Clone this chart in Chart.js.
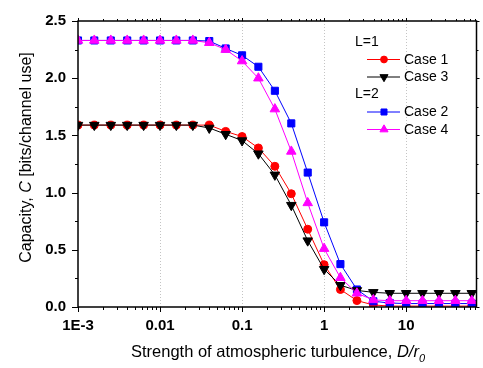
<!DOCTYPE html>
<html>
<head>
<meta charset="utf-8">
<script src="https://cdn.jsdelivr.net/npm/chart.js@4.4.0/dist/chart.umd.min.js"></script>
<style>
  html, body { margin: 0; padding: 0; background: #fff; }
  #wrap { width: 483px; height: 368px; }
</style>
</head>
<body>
<div id="wrap"><canvas id="chart" width="483" height="368"></canvas></div>
<script>
  // D/r0 sample points (0.2 decade steps)
  var turbulence = [0.001, 0.00158, 0.00251, 0.00398, 0.00631,
                    0.01, 0.0158, 0.0251, 0.0398, 0.0631,
                    0.1, 0.158, 0.251, 0.398, 0.631,
                    1, 1.58, 2.51, 3.98, 6.31,
                    10, 15.8, 25.1, 39.8, 63.1];

  var case1 = [1.59, 1.59, 1.59, 1.59, 1.59, 1.59, 1.59, 1.59, 1.59, 1.535,
               1.49, 1.39, 1.23, 0.99, 0.68, 0.37, 0.153, 0.056, 0.018, 0.008,
               0.008, 0.008, 0.008, 0.008, 0.008];
  var case3 = [1.59, 1.59, 1.59, 1.59, 1.59, 1.59, 1.59, 1.59, 1.565, 1.51,
               1.455, 1.34, 1.155, 0.89, 0.58, 0.33, 0.19, 0.145, 0.128, 0.12,
               0.12, 0.12, 0.12, 0.12, 0.12];
  var case2 = [2.33, 2.33, 2.33, 2.33, 2.33, 2.33, 2.33, 2.33, 2.325, 2.26,
               2.2, 2.1, 1.89, 1.605, 1.175, 0.74, 0.375, 0.153, 0.05, 0.035,
               0.03, 0.03, 0.03, 0.03, 0.03];
  var case4 = [2.33, 2.33, 2.33, 2.33, 2.33, 2.33, 2.33, 2.33, 2.31, 2.25,
               2.15, 2.0, 1.73, 1.36, 0.91, 0.51, 0.256, 0.12, 0.062, 0.055,
               0.055, 0.055, 0.055, 0.055, 0.055];

  var xTickValues = [0.001, 0.01, 0.1, 1, 10];
  var xTickLabels = ['1E-3', '0.01', '0.1', '1', '10'];
  var yTickValues = [0, 0.5, 1.0, 1.5, 2.0, 2.5];

  var FONT = '"Liberation Sans", Arial, sans-serif';

  function pts(ys) {
    return turbulence.map(function (x, i) { return { x: x, y: ys[i] }; });
  }

  function series(label, ys, color, style, radius, rotation, order) {
    return {
      label: label,
      data: pts(ys),
      borderColor: color,
      backgroundColor: color,
      pointBackgroundColor: color,
      pointBorderColor: color,
      pointBorderWidth: 1,
      borderWidth: 1,
      pointStyle: style,
      pointRadius: radius,
      pointRotation: rotation,
      order: order,
      clip: 0,
      tension: 0
    };
  }

  var datasets = [
    series('Case 1', case1, '#ff0000', 'circle', 4, 0, 4),
    series('Case 3', case3, '#000000', 'triangle', 5.5, 180, 2),
    series('Case 2', case2, '#0000ff', 'rect', 5, 0, 3),
    series('Case 4', case4, '#ff00ff', 'triangle', 5.5, 0, 1)
  ];

  // frame, minor ticks, axis titles and the grouped legend
  var decorations = {
    id: 'decorations',
    afterDraw: function (chart) {
      var ctx = chart.ctx;
      var a = chart.chartArea;
      var xs = chart.scales.x, ys = chart.scales.y;
      ctx.save();
      ctx.strokeStyle = '#000';

      // x ticks (bottom outward, top small)
      ctx.lineWidth = 1;
      for (var d = -3; d <= 1; d++) {
        for (var m = 1; m <= 9; m++) {
          var v = m * Math.pow(10, d);
          if (v > xs.max) continue;
          var px = Math.round(xs.getPixelForValue(v)) + 0.5;
          var len = m === 1 ? 5 : 3;
          ctx.beginPath();
          ctx.moveTo(px, a.bottom);
          ctx.lineTo(px, a.bottom + len);
          ctx.moveTo(px, a.top);
          ctx.lineTo(px, a.top - (m === 1 ? 3 : 2));
          ctx.stroke();
        }
      }
      // y ticks (left and right, outward)
      for (var t = 0; t <= 2.5001; t += 0.25) {
        var py = Math.round(ys.getPixelForValue(t)) + 0.5;
        var major = Math.abs(t * 2 - Math.round(t * 2)) < 1e-6;
        ctx.beginPath();
        ctx.moveTo(a.left, py);
        ctx.lineTo(a.left - (major ? 6 : 3), py);
        ctx.moveTo(a.right, py);
        ctx.lineTo(a.right + (major ? 3 : 2), py);
        ctx.stroke();
      }

      // frame
      ctx.lineWidth = 1.5;
      ctx.strokeRect(a.left, a.top, a.right - a.left, a.bottom - a.top);

      // x title with italic D/r0
      ctx.fillStyle = '#000';
      ctx.textBaseline = 'alphabetic';
      ctx.textAlign = 'left';
      var plain = 'Strength of atmospheric turbulence, ';
      var ital = 'D/r';
      ctx.font = '16.5px ' + FONT;
      var w1 = ctx.measureText(plain).width;
      ctx.font = 'italic 16.5px ' + FONT;
      var w2 = ctx.measureText(ital).width;
      ctx.font = 'italic 11px ' + FONT;
      var w3 = ctx.measureText('0').width;
      var x0 = 278 - (w1 + w2 + w3) / 2;
      var by = 357;
      ctx.font = '16.5px ' + FONT;
      ctx.fillText(plain, x0, by);
      ctx.font = 'italic 16.5px ' + FONT;
      ctx.fillText(ital, x0 + w1, by);
      ctx.font = 'italic 11px ' + FONT;
      ctx.fillText('0', x0 + w1 + w2, by + 5);

      // y title with italic C
      ctx.save();
      ctx.translate(31, 157.5);
      ctx.rotate(-Math.PI / 2);
      var p1 = 'Capacity, ', p2 = 'C', p3 = ' [bits/channel use]';
      ctx.font = '16px ' + FONT;
      var q1 = ctx.measureText(p1).width, q3 = ctx.measureText(p3).width;
      ctx.font = 'italic 16px ' + FONT;
      var q2 = ctx.measureText(p2).width;
      var s0 = -(q1 + q2 + q3) / 2;
      ctx.font = '16px ' + FONT;
      ctx.fillText(p1, s0, 0);
      ctx.font = 'italic 16px ' + FONT;
      ctx.fillText(p2, s0 + q1, 0);
      ctx.font = '16px ' + FONT;
      ctx.fillText(p3, s0 + q1 + q2, 0);
      ctx.restore();

      // legend grouped by L
      var rows = [
        { head: 'L=1', y: 42 },
        { ds: 0, y: 59 },
        { ds: 1, y: 76.5 },
        { head: 'L=2', y: 94 },
        { ds: 2, y: 111.5 },
        { ds: 3, y: 129 }
      ];
      ctx.textBaseline = 'middle';
      ctx.font = '14px ' + FONT;
      rows.forEach(function (r) {
        if (r.head) {
          ctx.fillStyle = '#000';
          ctx.fillText(r.head, 355, r.y);
          return;
        }
        var ds = chart.data.datasets[r.ds];
        ctx.strokeStyle = ds.borderColor;
        ctx.lineWidth = 1;
        ctx.beginPath();
        ctx.moveTo(367, r.y + 0.5);
        ctx.lineTo(400, r.y + 0.5);
        ctx.stroke();
        ctx.fillStyle = ds.backgroundColor;
        Chart.helpers.drawPoint(ctx, {
          pointStyle: ds.pointStyle,
          rotation: ds.pointRotation,
          radius: ds.pointRadius * 0.85,
          borderWidth: 1
        }, 384, r.y + 0.5);
        ctx.fillStyle = '#000';
        ctx.fillText(ds.label, 404, r.y + 1);
      });
      ctx.restore();
    }
  };

  new Chart(document.getElementById('chart'), {
    type: 'line',
    data: { datasets: datasets },
    options: {
      responsive: false,
      animation: false,
      layout: { padding: { top: 14, right: 3, left: 0, bottom: 0 } },
      plugins: { legend: { display: false }, tooltip: { enabled: false } },
      scales: {
        x: {
          type: 'logarithmic',
          min: 0.001,
          max: 72,
          afterBuildTicks: function (scale) {
            scale.ticks = xTickValues.map(function (v) { return { value: v }; });
          },
          afterFit: function (scale) { scale.height = 61; },
          ticks: {
            autoSkip: false,
            maxRotation: 0,
            padding: 10,
            color: '#000',
            font: { family: FONT, size: 15, weight: 'bold' },
            callback: function (value) {
              var i = xTickValues.indexOf(value);
              return i >= 0 ? xTickLabels[i] : '';
            }
          },
          grid: {
            drawTicks: false,
            lineWidth: 1,
            color: function (c) {
              var v = c.tick && c.tick.value;
              return (v > 0.002) ? '#c4c4c4' : 'rgba(0,0,0,0)';
            }
          },
          border: { display: false, dash: [1, 2] }
        },
        y: {
          min: 0,
          max: 2.5,
          afterBuildTicks: function (scale) {
            scale.ticks = yTickValues.map(function (v) { return { value: v }; });
          },
          afterFit: function (scale) { scale.width = 78; },
          ticks: {
            padding: 12,
            color: '#000',
            font: { family: FONT, size: 15, weight: 'bold' },
            callback: function (value) { return Number(value).toFixed(1); }
          },
          grid: { display: false, drawTicks: false },
          border: { display: false }
        }
      }
    },
    plugins: [decorations]
  });
</script>
</body>
</html>
